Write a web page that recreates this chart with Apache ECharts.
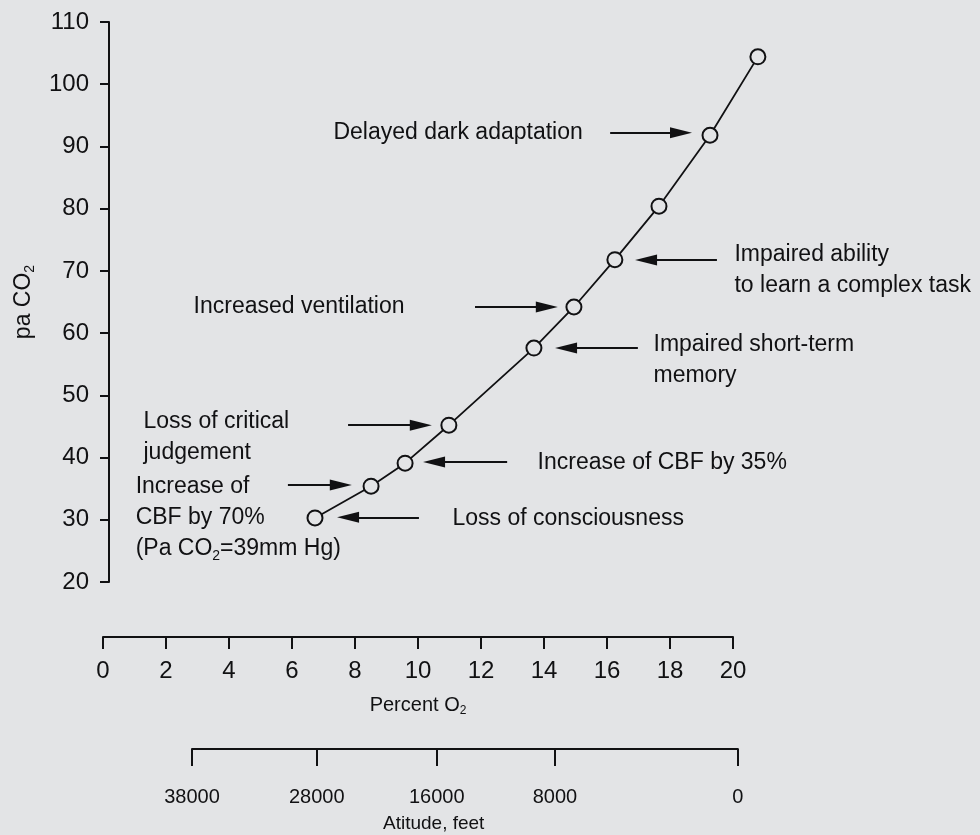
<!DOCTYPE html>
<html>
<head>
<meta charset="utf-8">
<script src="https://cdn.jsdelivr.net/npm/echarts@6/dist/echarts.min.js"></script>
<style>
html,body{margin:0;padding:0;background:#e3e4e6;}
#chart{width:980px;height:835px;}
</style>
</head>
<body>
<div id="chart"></div>
<script>
// ---- data ----
const percentO2 = [6.73, 8.51, 9.59, 10.98, 13.68, 14.95, 16.25, 17.65, 19.27, 20.79];
const paCO2     = [30.3, 35.4, 39.1, 45.2, 57.6, 64.2, 71.8, 80.4, 91.8, 104.4];

const yTicks = [20, 110, 10];          // min, max, interval
const o2Ticks = [0, 20, 2];            // min, max, interval
const plotO2Max = 21.5;                // plotting room to the right of the 20 % tick

// altitude scale (feet) placed at O2-equivalent positions
const altitudeLabels = ['38000', '28000', '16000', '8000', '0'];
const altitudeAtO2   = [2.83, 6.79, 10.6, 14.35, 20.16];

// annotations
const noteTexts = [
  'Delayed dark adaptation',
  'Impaired ability\nto learn a complex task',
  'Increased ventilation',
  'Impaired short-term\nmemory',
  'Loss of critical\njudgement',
  'Increase of CBF by 35%',
  'Increase of\nCBF by 70%\n(Pa CO{s|2}=39mm Hg)',
  'Loss of consciousness'
];
const noteX = [7.30, 20.03, 2.86, 17.46, 1.27, 13.78, 1.02, 11.08];
const noteY = [92.2, 70.1, 64.2, 55.7, 43.3, 39.1, 30.3, 30.1];

// arrows: from (tail) -> to (head)
const arrowFromX = [16.10, 19.49, 11.81, 16.98, 7.78, 12.83, 5.87, 10.03];
const arrowToX   = [18.35, 17.24, 14.09, 14.70, 10.09, 10.51, 7.55, 7.78];
const arrowY     = [92.2, 71.75, 64.2, 57.6, 45.2, 39.3, 35.6, 30.4];

// ---- chart ----
const ink = '#111113';
const bg = '#e3e4e6';
const font = "'Liberation Sans', Arial, Helvetica, sans-serif";
const pxPerO2 = 31.5;

const chart = echarts.init(document.getElementById('chart'), null, {renderer: 'canvas'});

const option = {
  backgroundColor: bg,
  animation: false,
  textStyle: {fontFamily: font, color: ink},
  grid: [
    {left: 103, top: 22, width: pxPerO2 * plotO2Max, height: 560},
    {left: 103, top: 582, width: pxPerO2 * (o2Ticks[1] - o2Ticks[0]), height: 55},
    {left: 192, top: 650, width: pxPerO2 * (altitudeAtO2[altitudeAtO2.length - 1] - altitudeAtO2[0]), height: 99}
  ],
  xAxis: [
    {type: 'value', gridIndex: 0, min: 0, max: plotO2Max, show: false},
    {
      type: 'value', gridIndex: 1,
      min: o2Ticks[0], max: o2Ticks[1], interval: o2Ticks[2],
      position: 'bottom',
      axisLine: {show: true, onZero: false, lineStyle: {color: ink, width: 2}},
      axisTick: {show: true, inside: false, length: 12, lineStyle: {color: ink, width: 2}},
      axisLabel: {show: true, margin: 22, fontSize: 24, color: ink, fontFamily: font},
      splitLine: {show: false},
      name: '{a|Percent O}{b|2}',
      nameLocation: 'middle', nameGap: 56,
      nameTextStyle: {
        rich: {
          a: {fontSize: 20, color: ink, fontFamily: font},
          b: {fontSize: 12, color: ink, fontFamily: font, padding: [12, 0, 0, 0]}
        }
      }
    },
    {
      type: 'value', gridIndex: 2,
      min: altitudeAtO2[0], max: altitudeAtO2[altitudeAtO2.length - 1],
      position: 'bottom',
      axisLine: {show: true, onZero: false, lineStyle: {color: ink, width: 2}},
      axisTick: {show: true, inside: false, length: 17, lineStyle: {color: ink, width: 2},
                 customValues: altitudeAtO2},
      axisLabel: {show: true, margin: 38, fontSize: 20, color: ink, fontFamily: font,
                  customValues: altitudeAtO2,
                  formatter: function (v) {
                    let best = 0, d = Infinity;
                    altitudeAtO2.forEach(function (p, i) { if (Math.abs(p - v) < d) { d = Math.abs(p - v); best = i; } });
                    return altitudeLabels[best];
                  }},
      splitLine: {show: false}
    }
  ],
  yAxis: [
    {
      type: 'value', gridIndex: 0,
      min: yTicks[0], max: yTicks[1], interval: yTicks[2],
      position: 'left', offset: -6,
      axisLine: {show: true, onZero: false, lineStyle: {color: ink, width: 2}},
      axisTick: {show: true, inside: false, length: 9, lineStyle: {color: ink, width: 2}},
      axisLabel: {show: true, margin: 20, fontSize: 24, color: ink, fontFamily: font},
      splitLine: {show: false},
      name: '{a|pa CO}{b|2}',
      nameLocation: 'middle', nameGap: 72,
      nameTextStyle: {
        rich: {
          a: {fontSize: 23, color: ink, fontFamily: font},
          b: {fontSize: 14, color: ink, fontFamily: font, padding: [12, 0, 0, 0]}
        }
      }
    },
    {type: 'value', gridIndex: 1, show: false, min: 0, max: 1},
    {type: 'value', gridIndex: 2, show: false, min: 0, max: 1}
  ],
  graphic: [
    {type: 'text', left: 383, top: 814,
     style: {text: 'Atitude, feet', font: '19px ' + font, fill: ink}}
  ],
  series: [
    {
      type: 'line',
      xAxisIndex: 0, yAxisIndex: 0,
      data: percentO2.map(function (x, i) { return [x, paCO2[i]]; }),
      clip: false,
      symbol: 'circle', symbolSize: 15,
      lineStyle: {color: ink, width: 1.8},
      itemStyle: {color: bg, borderColor: ink, borderWidth: 2},
      silent: true, z: 3,
      markLine: {
        silent: true,
        symbol: ['none', 'triangle'],
        symbolSize: [11, 22],
        label: {show: false},
        lineStyle: {color: ink, width: 2, type: 'solid'},
        emphasis: {disabled: true},
        data: arrowFromX.map(function (x, i) {
          return [{coord: [x, arrowY[i]]}, {coord: [arrowToX[i], arrowY[i]]}];
        })
      }
    },
    {
      type: 'scatter',
      xAxisIndex: 0, yAxisIndex: 0,
      data: noteX.map(function (x, i) { return [x, noteY[i]]; }),
      symbolSize: 1,
      itemStyle: {color: 'rgba(0,0,0,0)'},
      clip: false, silent: true,
      label: {
        show: true, position: 'right', distance: 0, opacity: 1,
        fontSize: 23, lineHeight: 31, color: ink, fontFamily: font,
        textBorderWidth: 0,
        formatter: function (p) { return noteTexts[p.dataIndex]; },
        rich: {s: {fontSize: 14, color: ink, fontFamily: font, padding: [14, 0, 0, 0]}}
      }
    }
  ]
};
chart.setOption(option);
</script>
</body>
</html>
